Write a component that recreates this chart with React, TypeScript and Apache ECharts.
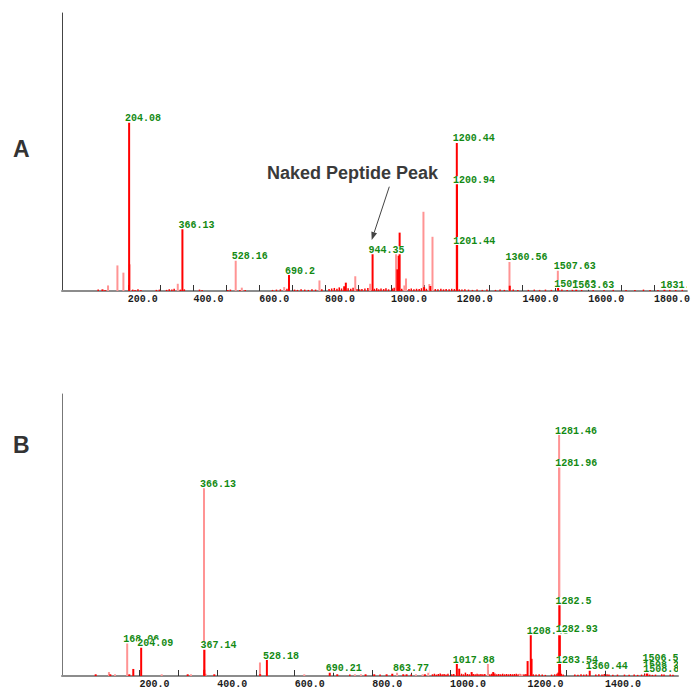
import React, { useEffect, useRef } from 'react';
import * as echarts from 'echarts';

// ---------- Panel A (m/z, relative intensity %) ----------
const aMax = 1900;
const aTicks = [200, 300, 400, 500, 600, 700, 800, 900, 1000, 1100, 1200, 1300, 1400, 1500, 1600, 1700, 1800];
const aTickLabels = [200, 400, 600, 800, 1000, 1200, 1400, 1600, 1800];

const aLabels: [number, number, string][] = [
  [204.08, 60.9, '204.08'],
  [366.13, 22.6, '366.13'],
  [528.16, 11.2, '528.16'],
  [690.2, 6.1, '690.2'],
  [944.35, 13.6, '944.35'],
  [1200.44, 53.6, '1200.44'],
  [1200.94, 38.8, '1200.94'],
  [1201.44, 16.9, '1201.44'],
  [1360.56, 10.8, '1360.56'],
  [1507.63, 7.6, '1507.63'],
  [1508.62, 1.4, '1508.62'],
  [1563.63, 0.8, '1563.63'],
  [1831.7, 0.8, '1831.7'],
];

const aRed: [number, number][] = [
  [123, 0.6], [204.08, 60.9], [366.13, 22.6], [690.2, 6.1], [858, 1.7], [863, 3.0],
  [944.35, 13.6], [1019.7, 7.8], [1023.6, 12.7], [1026.6, 21.0], [1101, 1.4], [1120, 1.8],
  [1200.44, 53.6], [1200.94, 38.8], [1201.44, 16.9], [1361.5, 1.9], [1508.62, 1.4],
  [1563.63, 0.8], [1831.7, 0.8],
];

const aPink: [number, number][] = [
  [140, 2.0], [168.5, 9.2], [186.7, 6.6], [205.7, 9.6], [352, 2.6], [528.16, 11.2],
  [546.7, 1.2], [675.6, 1.4], [782.8, 3.8], [891.7, 5.3], [937, 2.6], [1015.7, 13.3],
  [1041, 2.0], [1046, 4.5], [1099, 28.5], [1117, 2.5], [1126.5, 19.5], [1360.56, 10.8],
  [1507.63, 7.6],
];

const aNoise: [number, number][] = [
  [110, 0.5], [131, 0.4], [215, 0.5], [222, 0.4], [231, 0.6], [240, 0.4], [287, 0.4], [296, 0.5],
  [318, 0.4], [326, 0.6], [334, 0.5], [341, 0.8], [360, 0.5], [372, 0.6], [418, 0.5], [426, 0.4],
  [504, 0.4], [512, 0.5], [541, 0.4], [557, 0.4], [640, 0.4], [652, 0.5], [664, 0.6], [684, 0.8],
  [707, 0.5], [716, 0.4], [727, 0.6], [738, 0.5], [749, 0.4], [760, 0.6], [771, 0.5], [790, 0.6],
  [812, 0.7], [820, 0.9], [828, 1.1], [836, 0.8], [843, 1.3], [850, 0.9], [870, 1.0], [878, 0.8],
  [885, 1.2], [897, 0.7], [905, 0.6], [912, 0.7], [921, 0.9], [930, 1.1], [950, 0.8], [957, 1.0],
  [963, 0.6], [970, 0.9], [978, 0.7], [985, 1.0], [993, 0.6], [1005, 0.9], [1010, 1.2], [1033, 0.8],
  [1055, 0.7], [1062, 0.9], [1070, 0.6], [1078, 0.8], [1086, 0.7], [1093, 1.0], [1108, 0.8],
  [1135, 0.7], [1143, 0.6], [1152, 0.8], [1160, 0.6], [1168, 0.7], [1177, 0.6], [1185, 0.8],
  [1193, 0.7], [1208, 0.6], [1216, 0.5], [1225, 0.6], [1236, 0.5], [1248, 0.4], [1262, 0.5],
  [1278, 0.4], [1292, 0.5], [1318, 0.4], [1332, 0.5], [1345, 0.4], [1372, 0.5], [1386, 0.4],
  [1418, 0.4], [1436, 0.5], [1452, 0.4], [1470, 0.5], [1488, 0.4], [1520, 0.5], [1536, 0.4],
  [1552, 0.5], [1580, 0.4], [1615, 0.4], [1648, 0.4], [1676, 0.5], [1715, 0.4], [1742, 0.4],
  [1768, 0.5], [1788, 0.4], [1812, 0.4], [1848, 0.5], [1866, 0.4], [1886, 0.6],
];

// ---------- Panel B ----------
const bMax = 1588;
const bTicks = [200, 300, 400, 500, 600, 700, 800, 900, 1000, 1100, 1200, 1300, 1400, 1500];
const bTickLabels = [200, 400, 600, 800, 1000, 1200, 1400];

const bLabels: [number, number, string][] = [
  [168.06, 11.9, '168.06'],
  [204.09, 10.4, '204.09'],
  [366.13, 66.9, '366.13'],
  [367.14, 9.7, '367.14'],
  [528.18, 6.0, '528.18'],
  [690.21, 1.5, '690.21'],
  [863.77, 1.5, '863.77'],
  [1017.88, 4.6, '1017.88'],
  [1208.45, 14.8, '1208.45'],
  [1281.46, 85.8, '1281.46'],
  [1281.96, 74.3, '1281.96'],
  [1282.5, 25.4, '1282.5'],
  [1282.93, 15.4, '1282.93'],
  [1283.54, 4.6, '1283.54'],
  [1360.44, 2.2, '1360.44'],
  [1506.54, 5.3, '1506.54'],
  [1508.23, 2.8, '1508.23'],
  [1508.81, 1.2, '1508.81'],
];

const bRed: [number, number][] = [
  [86.8, 0.6], [124.6, 0.6], [173.5, 0.6], [183.8, 2.5], [204.09, 10.4], [324, 0.6], [366.6, 2.2],
  [367.14, 9.7], [392.6, 0.6], [510.9, 0.6], [528.18, 6.0], [690.21, 1.5], [709.6, 0.6], [782.6, 0.6],
  [805, 0.6], [836.8, 0.6], [851.4, 0.8], [879.7, 0.6], [888.3, 0.6], [935.6, 0.6], [1017.88, 4.6],
  [1024, 2.6], [1056, 1.4], [1111.7, 1.4], [1200.3, 5.3], [1208.45, 14.8], [1210.5, 6.1],
  [1279.5, 1.2], [1282.5, 25.4], [1282.93, 15.4], [1283.54, 4.6], [1284.2, 2.0], [1360.44, 2.2],
  [1508.23, 2.8], [1508.81, 1.2],
];

const bPink: [number, number][] = [
  [121, 1.4], [136.6, 0.6], [168.06, 11.9], [257, 0.6], [332.5, 0.6], [366.13, 66.9], [370, 0.8],
  [510.3, 4.8], [624.6, 0.6], [755, 0.6], [770.6, 0.6], [863.77, 1.5], [912.4, 0.6], [929.6, 0.6],
  [944.2, 2.4], [1098, 4.4], [1180, 0.8], [1186, 0.6], [1281.46, 85.8], [1281.96, 74.3],
  [1506.54, 5.3],
];

const bNoise: [number, number][] = [
  [742, 0.5], [820, 0.5], [900, 0.5], [955, 0.6], [960, 0.8], [965, 0.5], [970, 0.7], [975, 0.9],
  [980, 0.6], [985, 0.7], [990, 0.5], [995, 0.8], [1005, 0.6], [1010, 0.7], [1030, 0.8], [1035, 0.6],
  [1040, 1.2], [1045, 0.7], [1050, 0.6], [1060, 0.7], [1065, 0.6], [1070, 0.8], [1075, 0.6],
  [1080, 0.7], [1085, 0.6], [1090, 0.7], [1103, 0.6], [1108, 0.8], [1116, 0.9], [1121, 0.6],
  [1126, 0.7], [1131, 0.6], [1136, 0.8], [1141, 0.6], [1146, 0.7], [1151, 0.6], [1156, 0.7],
  [1161, 0.6], [1166, 0.7], [1171, 0.8], [1176, 0.6], [1181, 0.7], [1191, 0.6], [1196, 0.7],
  [1215, 0.6], [1222, 0.5], [1230, 0.6], [1238, 0.5], [1246, 0.4], [1262, 0.5], [1270, 0.6],
  [1276, 0.8], [1287, 0.8], [1292, 0.5], [1322, 0.5], [1330, 0.4], [1338, 0.6], [1345, 0.5],
  [1352, 0.6], [1376, 0.5], [1384, 0.6], [1392, 0.5], [1398, 0.7], [1405, 0.6], [1410, 0.5],
  [1420, 0.4], [1432, 0.5], [1450, 0.5], [1462, 0.4], [1475, 0.5], [1484, 0.4], [1494, 0.5],
  [1502, 0.6], [1515, 0.5], [1522, 0.4], [1530, 0.5], [1546, 0.6], [1552, 0.5], [1568, 0.5],
  [1575, 0.4],
];

const RED = '#ff0000';
const PINK = '#ff9494';
const GREEN = '#138a13';

function barSeries(data: [number, number][], color: string, width: number, idx: number, z: number) {
  return {
    type: 'custom',
    xAxisIndex: idx,
    yAxisIndex: idx,
    data,
    clip: true,
    silent: true,
    z,
    renderItem: (_params: any, api: any) => {
      const m = api.value(0);
      const v = api.value(1);
      const b = api.coord([m, 0]);
      const t = api.coord([m, v]);
      return {
        type: 'rect',
        shape: { x: b[0] - width / 2, y: t[1], width, height: b[1] - t[1] },
        style: { fill: color },
      };
    },
  };
}

function labelSeries(labels: [number, number, string][], idx: number) {
  return {
    type: 'custom',
    xAxisIndex: idx,
    yAxisIndex: idx,
    data: labels.map((l) => [l[0], l[1]]),
    clip: true,
    silent: true,
    z: 10,
    renderItem: (params: any, api: any) => {
      const item = labels[params.dataIndex];
      const p = api.coord([item[0], item[1]]);
      return {
        type: 'text',
        x: p[0] - 4,
        y: p[1] + 1,
        style: {
          text: item[2],
          fill: GREEN,
          font: 'bold 10px "Liberation Mono"',
          align: 'left',
          verticalAlign: 'bottom',
          backgroundColor: '#ffffff',
          lineHeight: 8,
        },
      };
    },
  };
}

function xAxis(idx: number, max: number, ticks: number[], labels: number[]) {
  return {
    type: 'value',
    gridIndex: idx,
    min: 0,
    max,
    splitLine: { show: false },
    axisLine: { show: true, lineStyle: { color: '#8c8c8c', width: 2 } },
    axisTick: { show: true, inside: true, length: 6, customValues: ticks, lineStyle: { color: '#333', width: 1 } },
    axisLabel: {
      show: true,
      customValues: labels,
      formatter: (v: number) => v.toFixed(1),
      align: 'left',
      margin: 3,
      color: '#1a1a1a',
      fontFamily: 'Liberation Mono',
      fontWeight: 'bold',
      fontSize: 10,
    },
  };
}

function yAxis(idx: number, color: string) {
  return {
    type: 'value',
    gridIndex: idx,
    min: 0,
    max: 100,
    axisLine: { show: true, lineStyle: { color, width: 1 } },
    axisTick: { show: false },
    axisLabel: { show: false },
    splitLine: { show: false },
  };
}

export default function App() {
  const ref = useRef<HTMLDivElement>(null);
  useEffect(() => {
    if (!ref.current) return;
    const chart = echarts.init(ref.current, undefined, { renderer: 'svg' });
    // arrow geometry
    const tip = [371.7, 240];
    const tail = [389.3, 186.7];
    const dx = tip[0] - tail[0];
    const dy = tip[1] - tail[1];
    const len = Math.sqrt(dx * dx + dy * dy);
    const ux = dx / len;
    const uy = dy / len;
    const bx = tip[0] - 8 * ux;
    const by = tip[1] - 8 * uy;
    const px = -uy * 3;
    const py = ux * 3;
    chart.setOption({
      animation: false,
      backgroundColor: '#ffffff',
      grid: [
        { left: 62, top: 13, width: 628, height: 278 },
        { left: 62, top: 394, width: 616, height: 283 },
      ],
      xAxis: [xAxis(0, aMax, aTicks, aTickLabels), xAxis(1, bMax, bTicks, bTickLabels)],
      yAxis: [yAxis(0, '#444'), yAxis(1, '#777')],
      series: [
        barSeries(aNoise, RED, 1.5, 0, 2),
        barSeries(aPink, PINK, 2, 0, 3),
        barSeries(aRed, RED, 2, 0, 4),
        labelSeries(aLabels, 0),
        barSeries(bNoise, RED, 1.5, 1, 2),
        barSeries(bPink, PINK, 2, 1, 3),
        barSeries(bRed, RED, 2, 1, 4),
        labelSeries(bLabels, 1),
      ],
      graphic: [
        { type: 'text', x: 13, y: 149, style: { text: 'A', font: 'bold 23px "Liberation Sans"', fill: '#333', verticalAlign: 'middle' } },
        { type: 'text', x: 13, y: 445, style: { text: 'B', font: 'bold 23px "Liberation Sans"', fill: '#333', verticalAlign: 'middle' } },
        { type: 'text', x: 352.5, y: 173, style: { text: 'Naked Peptide Peak', font: 'bold 18px "Liberation Sans"', fill: '#3a3a3a', align: 'center', verticalAlign: 'middle' } },
        { type: 'line', shape: { x1: tail[0], y1: tail[1], x2: bx, y2: by }, style: { stroke: '#444', lineWidth: 1 } },
        { type: 'polygon', shape: { points: [[tip[0], tip[1]], [bx + px, by + py], [bx - px, by - py]] }, style: { fill: '#444' } },
      ],
    });
    return () => chart.dispose();
  }, []);
  return <div ref={ref} style={{ position: 'fixed', left: 0, top: 0, width: 693, height: 689 }} />;
}
